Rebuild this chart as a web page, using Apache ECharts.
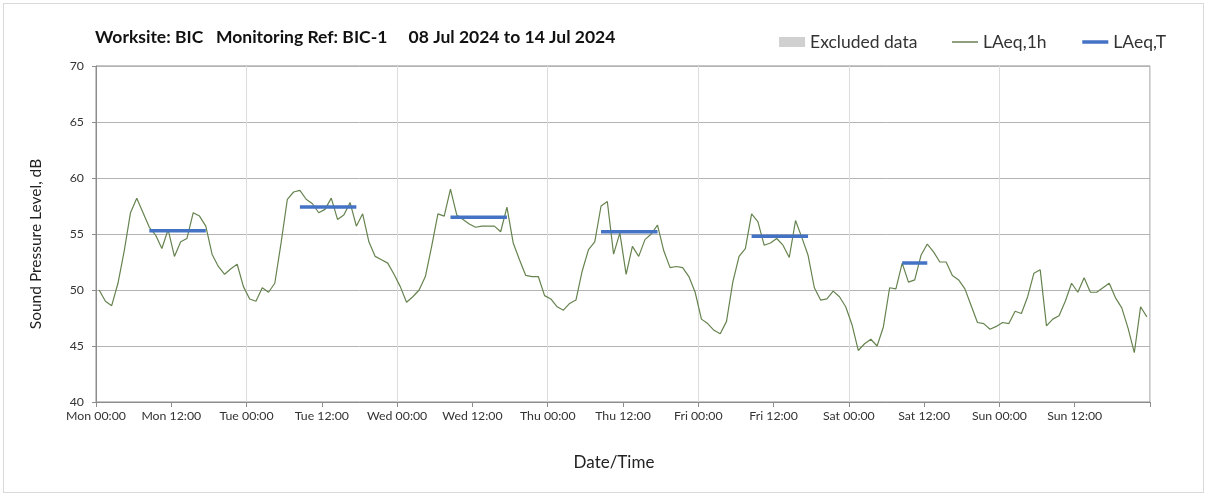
<!DOCTYPE html>
<html>
<head>
<meta charset="utf-8">
<script src="https://cdn.jsdelivr.net/npm/echarts@6/dist/echarts.min.js"></script>
<style>
html,body{margin:0;padding:0;background:#fff;}
#frame{position:absolute;left:3px;top:3px;width:1201px;height:490px;border:1px solid #d9d9d9;box-sizing:border-box;}
#chart{position:absolute;left:0;top:0;width:1208px;height:497px;}
</style>
</head>
<body>
<div id="frame"></div>
<div id="chart"></div>
<script>
// Day names for tick labels
const dayNames = ['Mon','Tue','Wed','Thu','Fri','Sat','Sun'];
// Hourly LAeq,1h values (dB), Mon 00:00 .. Sun 23:00
const laeq1h = [
50.0,49.0,48.6,50.6,53.5,56.9,58.2,56.9,55.6,54.9,53.7,55.4,53.0,54.3,54.6,56.9,56.6,55.7,53.2,52.1,51.4,51.9,52.3,50.3,
49.2,49.0,50.2,49.8,50.6,54.2,58.1,58.75,58.9,58.1,57.7,56.9,57.2,58.2,56.3,56.7,57.8,55.7,56.8,54.3,53.0,52.7,52.4,51.4,
50.3,48.9,49.4,50.0,51.2,53.9,56.8,56.6,59.0,56.7,56.3,55.9,55.6,55.7,55.7,55.7,55.2,57.4,54.2,52.7,51.3,51.2,51.2,49.5,
49.2,48.5,48.2,48.8,49.1,51.7,53.6,54.3,57.5,57.9,53.2,55.1,51.4,53.9,53.0,54.5,55.0,55.8,53.5,52.0,52.1,52.0,51.2,49.8,
47.4,47.0,46.4,46.1,47.2,50.7,53.0,53.7,56.8,56.1,54.0,54.2,54.6,54.0,52.9,56.2,54.7,53.1,50.2,49.1,49.2,49.9,49.4,48.5,
46.9,44.6,45.2,45.6,45.0,46.7,50.2,50.1,52.4,50.7,50.9,53.1,54.1,53.4,52.5,52.5,51.3,50.9,50.1,48.6,47.1,47.0,46.5,46.75,
47.1,47.0,48.1,47.9,49.4,51.5,51.8,46.8,47.4,47.7,49.0,50.6,49.8,51.1,49.8,49.8,50.2,50.6,49.3,48.4,46.6,44.4,48.5,47.6
];
// LAeq,T periods (hours from Mon 00:00, hour-midpoints) and values
const periodStart = [8.5, 32.5, 56.5, 80.5, 104.5, 128.5];
const periodEnd   = [17.5, 41.5, 65.5, 89.5, 113.5, 132.5];
const laeqT       = [55.3, 57.4, 56.5, 55.2, 54.8, 52.4];
// y ticks
const yMin = 40, yMax = 70, yStep = 5;

const FONT = 'Lato';
const chart = echarts.init(document.getElementById('chart'), null, {renderer:'canvas'});

const lineData = laeq1h.map((v, i) => [i + 0.5, v]);
const tSeries = laeqT.map((v, k) => ({
  name: 'LAeq,T', type: 'line', symbol: 'none', silent: true,
  data: [[periodStart[k], v], [periodEnd[k], v]],
  lineStyle: {color: '#4472C4', width: 3.5}, itemStyle: {color: '#4472C4'}, z: 3
}));

chart.setOption({
  animation: false,
  title: {
    text: 'Worksite: BIC   Monitoring Ref: BIC-1     08 Jul 2024 to 14 Jul 2024',
    left: 90, top: 23,
    textStyle: {fontFamily: FONT, fontSize: 17.5, fontWeight: 'bold', color: '#111'}
  },
  legend: {
    right: 37, top: 28, itemWidth: 26, itemHeight: 10, itemGap: 34,
    textStyle: {fontFamily: FONT, fontSize: 17.5, color: '#333'},
    data: [
      {name: 'Excluded data', icon: 'rect'},
      {name: 'LAeq,1h', itemStyle: {opacity: 0}, lineStyle: {color: '#44602c', width: 1.2}},
      {name: 'LAeq,T', itemStyle: {opacity: 0}, lineStyle: {color: '#4472C4', width: 3.5}}
    ]
  },
  grid: {left: 96, right: 58, top: 66, bottom: 95, show: true, borderColor: '#8c8c8c', borderWidth: 1},
  xAxis: {
    type: 'value', min: 0, max: 168, interval: 12,
    name: 'Date/Time', nameLocation: 'middle', nameGap: 52,
    nameTextStyle: {fontFamily: FONT, fontSize: 17, color: '#222', padding: [0, 18, 0, 0]},
    axisLine: {lineStyle: {color: '#8c8c8c'}},
    axisTick: {show: true, length: 5, lineStyle: {color: '#8c8c8c'}},
    axisLabel: {
      fontFamily: FONT, fontSize: 12.3, color: '#333', margin: 8,
      formatter: v => v >= 168 ? '' : dayNames[Math.floor(v / 24)] + ' ' + (v % 24 === 0 ? '00:00' : '12:00')
    },
    splitLine: {show: true, lineStyle: {color: ['#dcdcdc', 'rgba(0,0,0,0)'], width: 1}}
  },
  yAxis: {
    type: 'value', min: yMin, max: yMax, interval: yStep,
    name: 'Sound Pressure Level, dB', nameLocation: 'middle', nameGap: 52,
    nameTextStyle: {fontFamily: FONT, fontSize: 15.5, color: '#222', padding: [0, 20, 0, 0]},
    axisLine: {show: true, lineStyle: {color: '#8c8c8c'}},
    axisTick: {show: true, length: 4, lineStyle: {color: '#8c8c8c'}},
    axisLabel: {fontFamily: FONT, fontSize: 12.3, color: '#333', margin: 12},
    splitLine: {show: true, lineStyle: {color: '#b3b3b3', width: 1}}
  },
  series: [
    {name: 'Excluded data', type: 'line', data: [], symbol: 'none',
     itemStyle: {color: '#d0d0d0'}, lineStyle: {color: '#d0d0d0'}},
    {name: 'LAeq,1h', type: 'line', symbol: 'none', data: lineData,
     lineStyle: {color: '#66834f', width: 1.2}, itemStyle: {color: '#44602c'}, z: 2},
    ...tSeries
  ]
});
</script>
</body>
</html>
